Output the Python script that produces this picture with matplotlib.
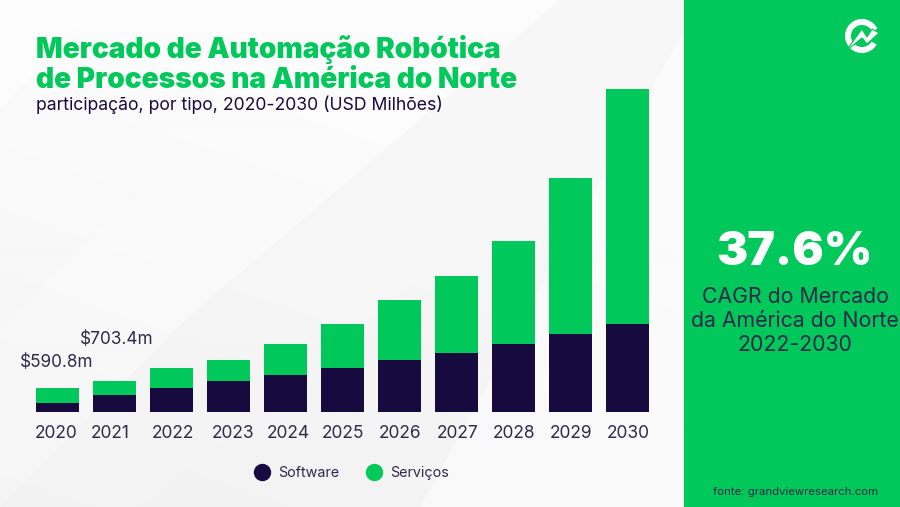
#!/usr/bin/env python3
import numpy as np
import matplotlib
matplotlib.use('Agg')
import matplotlib.pyplot as plt
from matplotlib.lines import Line2D
from matplotlib.patches import Wedge, Polygon

#values, USD millions
years = [2020, 2021, 2022, 2023, 2024, 2025, 2026, 2027, 2028, 2029, 2030]
software = [216, 408, 576, 744, 888, 1056, 1248, 1416, 1632, 1872, 2112]
servicos = [360, 336, 480, 504, 744, 1056, 1440, 1848, 2472, 3744, 5640]
year_labels = ['2020', '2021', '2022', '2023', '2024', '2025', '2026', '2027', '2028', '2029', '2030']
label_shift = [-1, -4, 2, 5, 3, 1, 1, 1, 1, 1, 1]   #labels are not centred under the bars in the original

GREEN = '#00c85a'
NAVY = '#170a3e'
TEXT = '#2e2a4a'
FONT = 'Inter'

fig = plt.figure(figsize=(9, 5.07), dpi=100)

#background, in pixel coordinates
bg = fig.add_axes([0, 0, 1, 1])
bg.set_xlim(0, 900)
bg.set_ylim(507, 0)
bg.axis('off')

xx, yy = np.meshgrid(np.linspace(0, 684, 342), np.linspace(0, 507, 254))
shade = 0.985 - 0.03 * np.clip((yy - xx * 0.35) / 507, 0, 1)
bg.imshow(shade, cmap='gray', vmin=0, vmax=1, extent=[0, 684, 507, 0], aspect='auto', zorder=0)

bg.add_patch(Polygon([[0, 0], [100, 0], [0, 110]], fc='white', alpha=0.6, ec='none', zorder=1))
bg.add_patch(Polygon([[330, 0], [684, 0], [684, 60], [140, 507], [0, 507], [0, 330]], fc='white', alpha=0.2, ec='none', zorder=1))
bg.add_patch(Polygon([[0, 507], [185, 320], [560, 0], [684, 0], [684, 507]], fc='#eeeef0', alpha=0.3, ec='none', zorder=1))
bg.add_patch(Polygon([[684, 30], [684, 507], [420, 507]], fc='white', alpha=0.5, ec='none', zorder=1))

#green side panel
bg.fill_between([684, 900], 0, 507, color=GREEN, lw=0, zorder=2)

#logo
bg.add_patch(Wedge((862, 36), 17, 30, 335, width=6, fc='white', ec='none', zorder=3))
bg.add_patch(Polygon([[846, 51], [862, 29], [867, 37], [872, 29], [879, 33], [867, 44], [862, 38]],
                     fc='white', ec=GREEN, lw=0.8, zorder=4))

#stacked bars
ax = fig.add_axes([0, (507 - 412) / 507, 684 / 900, 340 / 507])
ax.patch.set_alpha(0)
step = 57.0
ax.set_xlim(2020 - 57.3 / step, 2020 + (684 - 57.3) / step)
ax.set_ylim(0, 8160)
ax.bar(years, software, width=0.76, color=NAVY, label='Software')
ax.bar(years, servicos, width=0.76, bottom=software, color=GREEN, label='Serviços')

for s in ax.spines.values():
    s.set_visible(False)
ax.set_yticks([])
ax.set_xticks(years)
ax.set_xticklabels([])
ax.tick_params(length=0)

for y, lab, dx in zip(years, year_labels, label_shift):
    ax.annotate(lab, xy=(y, 0), xytext=(dx * 0.72, -9.5), textcoords='offset points',
                ha='center', va='top', fontsize=12.5, color=TEXT, family=FONT)

ax.annotate('$590.8m', xy=(2020, software[0] + servicos[0]), xytext=(-0.5, 12), textcoords='offset points',
            ha='center', va='bottom', fontsize=12.4, color=TEXT, family=FONT)
ax.annotate('$703.4m', xy=(2021, software[1] + servicos[1]), xytext=(1.5, 24), textcoords='offset points',
            ha='center', va='bottom', fontsize=12.4, color=TEXT, family=FONT)

handles = [Line2D([], [], ls='', marker='o', ms=11.5, color=NAVY),
           Line2D([], [], ls='', marker='o', ms=11.5, color=GREEN)]
fig.legend(handles, ['Software', 'Serviços'], ncol=2, frameon=False, loc='center',
           bbox_to_anchor=(348 / 900, 1 - 473 / 507), columnspacing=1.42, handletextpad=0.14,
           labelcolor=TEXT, prop={'family': FONT, 'size': 10.3})

#titles
fig.text(36 / 900, 1 - 49 / 507, 'Mercado de Automação Robótica', fontsize=20.15, fontweight='black',
         color=GREEN, family=FONT, va='center')
fig.text(36 / 900, 1 - 81 / 507, 'de Processos na América do Norte', fontsize=20.15, fontweight='black',
         color=GREEN, family=FONT, va='center')
fig.text(36 / 900, 1 - 105 / 507, 'participação, por tipo, 2020-2030 (USD Milhões)', fontsize=12.7,
         color=NAVY, family=FONT, va='center')

#side panel text
fig.text(794 / 900, 1 - 253 / 507, '37.6%', fontsize=33.5, fontweight='black', color='white',
         family=FONT, ha='center', va='center')
for line, ypx in zip(['CAGR do Mercado', 'da América do Norte', '2022-2030'], [297, 321, 345]):
    fig.text(795 / 900, 1 - ypx / 507, line, fontsize=15.3, color=TEXT, family=FONT, ha='center', va='center')
fig.text(795.5 / 900, 1 - 492 / 507, 'fonte: grandviewresearch.com', fontsize=8.2, color=TEXT,
         family=FONT, ha='center', va='center')

fig.savefig('out.png', dpi=100)
